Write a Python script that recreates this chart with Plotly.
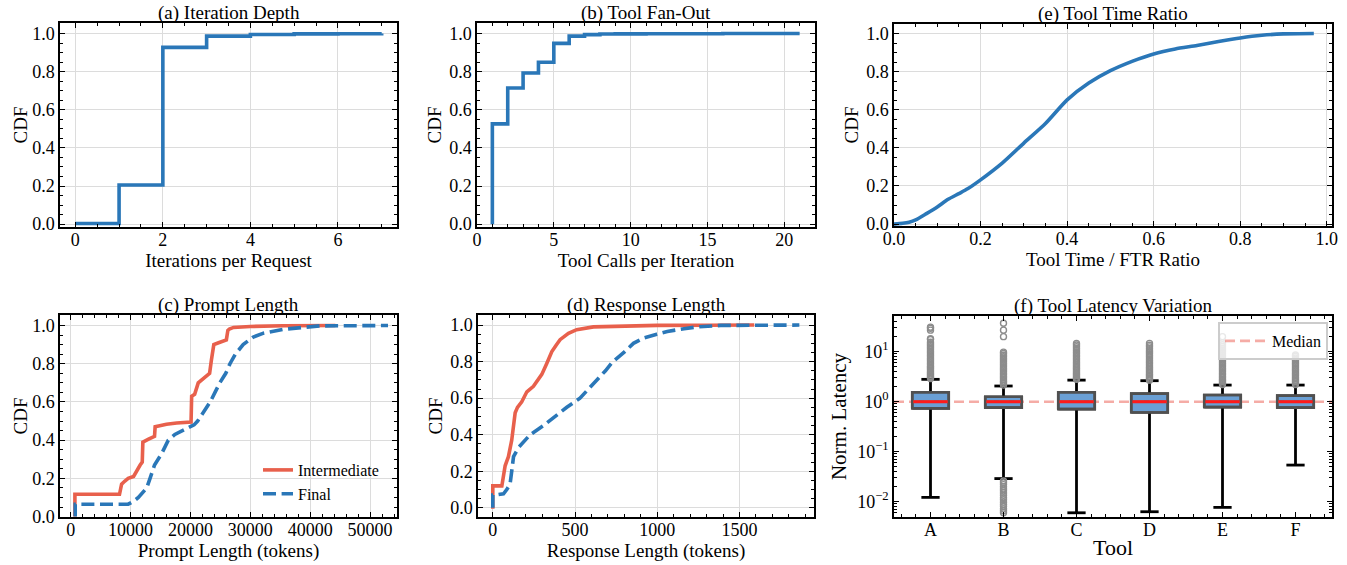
import plotly.graph_objects as go

# ---------------- data ----------------
# (a) Iteration depth CDF (step)
iter_x = [0, 1, 2, 3, 4, 5, 6, 7]
iter_cdf = [0.003, 0.205, 0.927, 0.986, 0.995, 0.998, 0.999, 1.0]

# (b) Tool fan-out CDF (step)
fan_x = [1, 1, 2, 3, 4, 5, 6, 7, 8, 9, 10, 11, 12, 13, 14, 15, 16, 17, 18, 19, 20, 21]
fan_cdf = [0.0, 0.526, 0.714, 0.793, 0.849, 0.948, 0.986, 0.994, 0.997, 0.998, 0.998,
           0.999, 0.999, 0.999, 0.999, 0.999, 1.0, 1.0, 1.0, 1.0, 1.0, 1.0]

# (e) Tool time ratio CDF
ratio_x = [0.0, 0.02, 0.035, 0.05, 0.075, 0.1, 0.125, 0.15, 0.17, 0.2, 0.25, 0.3, 0.35,
           0.4, 0.45, 0.5, 0.55, 0.6, 0.65, 0.7, 0.75, 0.8, 0.85, 0.9, 0.97]
ratio_cdf = [0.0, 0.004, 0.01, 0.022, 0.055, 0.09, 0.13, 0.16, 0.185, 0.232, 0.32, 0.425,
             0.528, 0.652, 0.74, 0.805, 0.854, 0.893, 0.919, 0.937, 0.958, 0.977, 0.991,
             0.998, 1.0]

# (c) Prompt length CDF
prompt_int_x = [700, 700, 8150, 8500, 9000, 9600, 10500, 11000, 11600, 11950, 12050, 13000,
                13800, 14000, 14100, 15000, 16000, 17700, 20000, 20100, 20200, 20700, 21300,
                22000, 22800, 23200, 23500, 23900, 24700, 26000, 26250, 26500, 27200, 30000,
                35500, 44200]
prompt_int_cdf = [0.0, 0.117, 0.117, 0.17, 0.185, 0.2, 0.21, 0.24, 0.27, 0.285, 0.39, 0.405,
                  0.415, 0.42, 0.47, 0.478, 0.483, 0.49, 0.492, 0.495, 0.63, 0.64, 0.70,
                  0.72, 0.74, 0.75, 0.82, 0.90, 0.91, 0.925, 0.975, 0.982, 0.99, 0.995,
                  0.999, 1.0]
prompt_fin_x = [750, 750, 9600, 10500, 11300, 12700, 13250, 14000, 15200, 16300, 17400,
                19400, 20600, 21200, 22300, 23300, 24100, 24900, 25900, 26600, 27500, 28800,
                30500, 32200, 35500, 38300, 41600, 53000]
prompt_fin_cdf = [0.0, 0.065, 0.065, 0.08, 0.1, 0.15, 0.2, 0.27, 0.33, 0.4, 0.43, 0.46,
                  0.48, 0.5, 0.55, 0.6, 0.65, 0.7, 0.75, 0.8, 0.85, 0.9, 0.94, 0.96, 0.98,
                  0.99, 0.998, 1.0]

# (d) Response length CDF
resp_int_x = [0, 0, 55, 60, 65, 75, 95, 115, 136, 150, 176, 207, 247, 298, 328, 359, 385,
              409, 460, 510, 612, 780, 1000, 1300, 1590]
resp_int_cdf = [-0.005, 0.12, 0.12, 0.15, 0.19, 0.23, 0.28, 0.37, 0.52, 0.55, 0.58, 0.635,
                0.665, 0.73, 0.79, 0.855, 0.89, 0.92, 0.955, 0.975, 0.99, 0.995, 0.998,
                0.999, 1.0]
resp_fin_x = [0, 0, 15, 65, 85, 105, 115, 126, 156, 197, 227, 308, 375, 450, 530, 583, 634,
              685, 730, 797, 855, 920, 997, 1061, 1163, 1244, 1386, 1864]
resp_fin_cdf = [0.0, 0.07, 0.07, 0.077, 0.10, 0.13, 0.2, 0.28, 0.33, 0.37, 0.40, 0.45, 0.5,
                0.55, 0.6, 0.65, 0.7, 0.75, 0.8, 0.85, 0.9, 0.93, 0.95, 0.965, 0.98, 0.99,
                0.998, 1.0]

# (f) Tool latency boxplots (normalized latency)
tools = ["A", "B", "C", "D", "E", "F"]
tool_pos = [1, 2, 3, 4, 5, 6]
lat_q1 = [0.736, 0.76, 0.71, 0.61, 0.78, 0.76]
lat_med = [1.0, 1.0, 1.0, 1.0, 1.0, 1.0]
lat_q3 = [1.54, 1.26, 1.54, 1.45, 1.36, 1.32]
lat_whi_lo = [0.0122, 0.029, 0.006, 0.0063, 0.0077, 0.054]
lat_whi_hi = [2.8, 2.06, 2.7, 2.63, 2.15, 2.15]
out_A = [2.9, 3.05, 3.2, 3.4, 3.6, 3.8, 4.0, 4.3, 4.6, 4.9, 5.2, 5.6, 6.0, 6.5, 7.0, 7.5,
         8.1, 8.7, 9.4, 10.1, 10.9, 11.7, 12.6, 13.5, 14.5, 15.5, 17.5, 18.2, 27.0, 29.5, 31.0]
out_B_hi = [2.15, 2.3, 2.45, 2.6, 2.8, 3.0, 3.2, 3.45, 3.7, 4.0, 4.3, 4.6, 5.0, 5.4, 5.8,
            6.3, 6.8, 7.3, 7.9, 8.5, 9.2, 9.8, 20.0, 27.0, 37.0]
out_B_lo = [0.026, 0.024, 0.022, 0.02, 0.018, 0.0165, 0.015, 0.0135, 0.012, 0.011, 0.0098,
            0.0088, 0.008, 0.0072, 0.0066, 0.006]
out_C = [2.8, 2.95, 3.1, 3.3, 3.5, 3.7, 3.95, 4.2, 4.5, 4.8, 5.1, 5.5, 5.9, 6.3, 6.8, 7.3,
         7.9, 8.5, 9.2, 9.9, 10.7, 11.6, 12.6, 13.6, 14.6]
out_D = [2.7, 2.85, 3.0, 3.2, 3.4, 3.6, 3.85, 4.1, 4.4, 4.7, 5.0, 5.4, 5.8, 6.2, 6.7, 7.2,
         7.8, 8.4, 9.1, 9.8, 10.5, 11.5, 12.5, 13.5, 14.7]
out_E = [2.2, 2.35, 2.5, 2.65, 2.8, 3.0, 3.2, 3.45, 3.7, 4.0, 4.3, 4.6, 5.0, 5.4, 5.8, 6.3,
         6.8, 7.3, 7.9, 8.5, 9.2, 10.0, 10.8, 11.7, 12.7, 13.8, 15.0, 20.0]
out_F = [2.2, 2.35, 2.5, 2.65, 2.85, 3.05, 3.3, 3.55, 3.8, 4.1, 4.4, 4.8, 5.2, 5.6, 6.0,
         6.5, 7.0, 7.5, 8.1, 8.6]
median_ref = 1.0

# ---------------- style ----------------
W, H = 1347, 565
FONT = "Liberation Serif, Times New Roman, Tinos, DejaVu Serif, serif"
BLUE = "#2a77b8"
RED = "#e8604c"
LW = 3.6


def px_x(p):
    return p / W


def px_y(p):
    return 1 - p / H


# subplot plot areas in pixels: (left, right, top, bottom)
areas = {
    1: (60, 397, 23, 227),
    2: (477, 815, 23, 227),
    3: (894, 1332, 24, 226),
    4: (60, 397, 315, 517),
    5: (478, 814, 315, 517),
    6: (894, 1332, 316, 517),
}

fig = go.Figure()

# (a)
fig.add_trace(go.Scatter(x=iter_x, y=iter_cdf, mode="lines", line=dict(color=BLUE, width=LW, shape="hv"),
                         xaxis="x", yaxis="y", showlegend=False))
# (b)
fig.add_trace(go.Scatter(x=fan_x, y=fan_cdf, mode="lines", line=dict(color=BLUE, width=LW, shape="hv"),
                         xaxis="x2", yaxis="y2", showlegend=False))
# (e)
fig.add_trace(go.Scatter(x=ratio_x, y=ratio_cdf, mode="lines", line=dict(color=BLUE, width=LW, shape="spline", smoothing=0.6),
                         xaxis="x3", yaxis="y3", showlegend=False))
# (c)
fig.add_trace(go.Scatter(x=prompt_int_x, y=prompt_int_cdf, mode="lines", name="Intermediate",
                         line=dict(color=RED, width=LW), xaxis="x4", yaxis="y4", legend="legend"))
fig.add_trace(go.Scatter(x=prompt_fin_x, y=prompt_fin_cdf, mode="lines", name="Final",
                         line=dict(color=BLUE, width=LW, dash="13px,5.6px"), xaxis="x4", yaxis="y4", legend="legend"))
# (d)
fig.add_trace(go.Scatter(x=resp_int_x, y=resp_int_cdf, mode="lines", line=dict(color=RED, width=LW),
                         xaxis="x5", yaxis="y5", showlegend=False))
fig.add_trace(go.Scatter(x=resp_fin_x, y=resp_fin_cdf, mode="lines", line=dict(color=BLUE, width=LW, dash="13px,5.6px"),
                         xaxis="x5", yaxis="y5", showlegend=False))

# (f) boxes
fig.add_trace(go.Box(x=tool_pos, q1=lat_q1, median=lat_med, q3=lat_q3, lowerfence=lat_q1, upperfence=lat_q3,
                     width=0.5, whiskerwidth=0, fillcolor="#6a9fd4", line=dict(color="#505050", width=2.6),
                     boxpoints=False, xaxis="x6", yaxis="y6", showlegend=False, hoverinfo="skip"))
# median reference line
fig.add_trace(go.Scatter(x=[0.5, 6.5], y=[median_ref, median_ref], mode="lines", name="Median",
                         line=dict(color="rgba(240,128,118,0.65)", width=2.6, dash="10px,5px"),
                         xaxis="x6", yaxis="y6", legend="legend2"))
# whiskers and caps
CAP = 0.125
wx, wy = [], []
for p, lo, hi, q1, q3 in zip(tool_pos, lat_whi_lo, lat_whi_hi, lat_q1, lat_q3):
    wx += [p, p, None, p, p, None, p - CAP, p + CAP, None, p - CAP, p + CAP, None]
    wy += [q3, hi, None, q1, lo, None, hi, hi, None, lo, lo, None]
fig.add_trace(go.Scatter(x=wx, y=wy, mode="lines", line=dict(color="black", width=2.8),
                         xaxis="x6", yaxis="y6", showlegend=False, hoverinfo="skip"))
# box outline redrawn over the dashed line, then medians
bx, by = [], []
for p, q1, q3 in zip(tool_pos, lat_q1, lat_q3):
    bx += [p - 0.25, p + 0.25, p + 0.25, p - 0.25, p - 0.25, None]
    by += [q1, q1, q3, q3, q1, None]
fig.add_trace(go.Scatter(x=bx, y=by, mode="lines", line=dict(color="#505050", width=2.6),
                         xaxis="x6", yaxis="y6", showlegend=False, hoverinfo="skip"))
mx, my = [], []
for p, m in zip(tool_pos, lat_med):
    mx += [p - 0.235, p + 0.235, None]
    my += [m, m, None]
fig.add_trace(go.Scatter(x=mx, y=my, mode="lines", line=dict(color="#ff1a1a", width=3),
                         xaxis="x6", yaxis="y6", showlegend=False, hoverinfo="skip"))
# outliers
outliers = [out_A, out_B_hi + out_B_lo, out_C, out_D, out_E, out_F]
ox, oy = [], []
for p, vals in zip(tool_pos, outliers):
    ox += [p] * len(vals)
    oy += vals
fig.add_trace(go.Scatter(x=ox, y=oy, mode="markers",
                         marker=dict(symbol="circle-open", size=6, color="#8c8c8c", line=dict(width=1.4)),
                         xaxis="x6", yaxis="y6", showlegend=False, hoverinfo="skip"))


def axis_common(minor_dtick=None, grid=True):
    d = dict(showline=True, linecolor="black", linewidth=1.5, mirror="ticks", ticks="inside",
             ticklen=5, tickwidth=1.3, tickcolor="black", showgrid=grid, gridcolor="#dcdcdc",
             gridwidth=1, zeroline=False, automargin=False,
             tickfont=dict(family=FONT, size=18, color="black"),
             title_font=dict(family=FONT, size=19, color="black"))
    if minor_dtick is not None:
        d["minor"] = dict(ticks="inside", ticklen=3, tickwidth=1, tickcolor="black",
                          dtick=minor_dtick, showgrid=False)
    return d


layout = dict(width=W, height=H, margin=dict(l=0, r=0, t=0, b=0, autoexpand=False),
              paper_bgcolor="white", plot_bgcolor="white",
              font=dict(family=FONT, size=18, color="black"))

specs = {
    1: dict(xr=[-0.35, 7.35], xd=2, xm=0.5, yr=[-0.015, 1.055], xt="Iterations per Request", yt="CDF", xf=None, ys=0),
    2: dict(xr=[0, 22], xd=5, xm=1, yr=[-0.015, 1.055], xt="Tool Calls per Iteration", yt="CDF", xf=None, ys=3),
    3: dict(xr=[0, 1.012], xd=0.2, xm=0.05, yr=[-0.01, 1.05], xt="Tool Time / FTR Ratio", yt="CDF", xf=".1f", ys=3),
    4: dict(xr=[-1790, 54500], xd=10000, xm=2000, yr=[-0.002, 1.055], xt="Prompt Length (tokens)", yt="CDF", xf="d", ys=0),
    5: dict(xr=[-90, 1953], xd=500, xm=100, yr=[-0.05, 1.055], xt="Response Length (tokens)", yt="CDF", xf=None, ys=3),
}

for i in range(1, 7):
    l, r, t, b = areas[i]
    xn = "xaxis" if i == 1 else f"xaxis{i}"
    yn = "yaxis" if i == 1 else f"yaxis{i}"
    xa = "x" if i == 1 else f"x{i}"
    ya = "y" if i == 1 else f"y{i}"
    if i <= 5:
        s = specs[i]
        xax = axis_common(s["xm"])
        xax.update(domain=[px_x(l), px_x(r)], anchor=ya, range=s["xr"], dtick=s["xd"], tick0=0,
                   ticklabelstandoff=-4, title=dict(text=s["xt"], standoff=0))
        if s["xf"]:
            xax["tickformat"] = s["xf"]
        yax = axis_common(0.05)
        yax.update(domain=[px_y(b), px_y(t)], anchor=xa, range=s["yr"], dtick=0.2, tick0=0,
                   tickformat=".1f", title=dict(text=s["yt"], standoff=s["ys"]))
    else:
        xax = axis_common(0.2, grid=False)
        xax.update(domain=[px_x(l), px_x(r)], anchor=ya, range=[0.5, 6.5], tickvals=tool_pos,
                   ticktext=tools, ticklabelstandoff=-4,
                   title=dict(text="Tool", standoff=0, font=dict(family=FONT, size=22)))
        minor_vals = [k * 10.0 ** e for e in range(-3, 2) for k in range(2, 10)]
        yax = axis_common(None, grid=False)
        yax.update(domain=[px_y(b), px_y(t)], anchor=xa, type="log", range=[-2.306, 1.714],
                   tickvals=[0.01, 0.1, 1, 10],
                   ticktext=["10<sup>\u22122</sup>", "10<sup>\u22121</sup>", "10<sup>0</sup>", "10<sup>1</sup>"],
                   minor=dict(ticks="inside", ticklen=3, tickwidth=1, tickcolor="black",
                              tickvals=minor_vals, showgrid=False),
                   title=dict(text="Norm. Latency", standoff=5, font=dict(family=FONT, size=21)))
    layout[xn] = xax
    layout[yn] = yax

titles = {1: "(a) Iteration Depth", 2: "(b) Tool Fan-Out", 3: "(e) Tool Time Ratio",
          4: "(c) Prompt Length", 5: "(d) Response Length", 6: "(f) Tool Latency Variation"}
ann = []
for i, txt in titles.items():
    l, r, t, b = areas[i]
    ann.append(dict(text=txt, xref="paper", yref="paper", x=px_x((l + r) / 2), y=px_y(t - 10),
                    xanchor="center", yanchor="middle", showarrow=False,
                    font=dict(family=FONT, size=19, color="black")))
layout["annotations"] = ann

layout["legend"] = dict(x=px_x(258), y=px_y(453), xanchor="left", yanchor="top",
                        bgcolor="rgba(255,255,255,0)", borderwidth=0,
                        font=dict(family=FONT, size=16, color="black"), tracegroupgap=2)
layout["legend2"] = dict(x=px_x(1328), y=px_y(322), xanchor="right", yanchor="top",
                         bgcolor="rgba(255,255,255,0.8)", bordercolor="#cccccc", borderwidth=2,
                         itemwidth=42,
                         font=dict(family=FONT, size=16, color="black"))

fig.update_layout(**layout)
fig.write_html("out.html", config={"displayModeBar": False},
               post_script="document.body.style.margin='0px';")
